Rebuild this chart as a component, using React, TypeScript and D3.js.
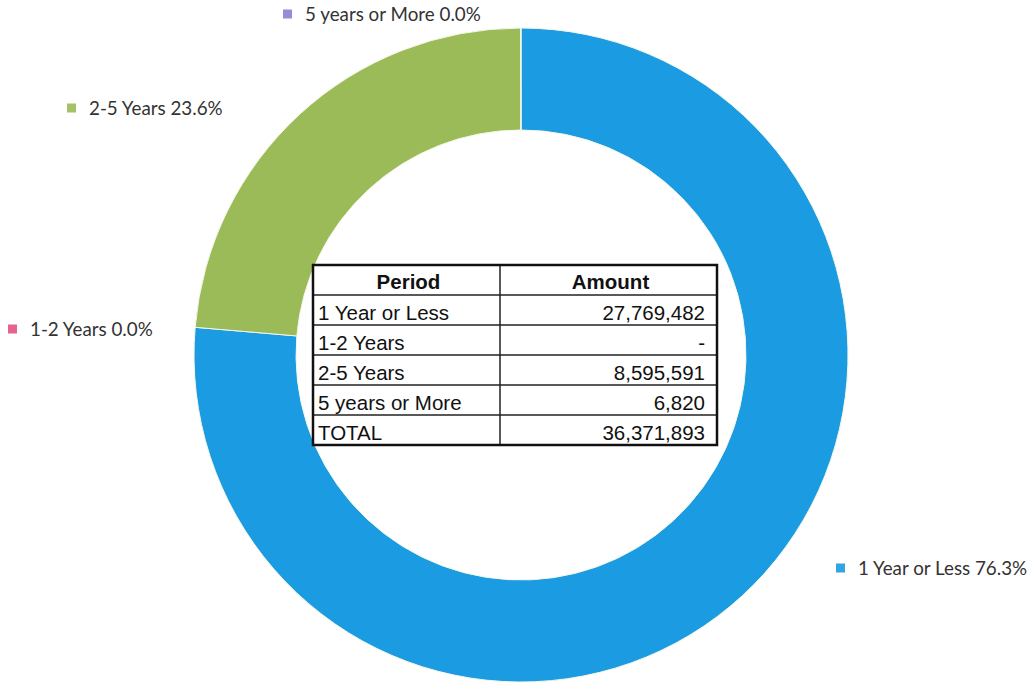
import React from "react";
import * as d3 from "d3";

const periods = ["1 Year or Less", "1-2 Years", "2-5 Years", "5 years or More"];
const amounts = [27769482, 0, 8595591, 6820];
const labelNames = ["1 Year or Less", "1-2 Years", "2-5 Years", "5 years or More"];
const colors = ["#1b9be1", "#e2527f", "#9bbb59", "#8a7fd4"];
const tableHeaders = ["Period", "Amount"];
const totalLabel = "TOTAL";

// label anchor positions (marker left/centre) – layout only
const labelLayout = [
  { x: 836, y: 568 },
  { x: 8, y: 329 },
  { x: 67, y: 108 },
  { x: 283, y: 14 },
];

const W = 1034;
const H = 686;
const cx = 521;
const cy = 355;
const outerR = 327;
const innerR = 225;

export default function App() {
  const total = d3.sum(amounts);
  const pie = d3
    .pie<number>()
    .sort(null)
    .value((d) => d)
    .startAngle(0)
    .endAngle(2 * Math.PI);
  const arcs = pie(amounts);
  const arc = d3.arc<d3.PieArcDatum<number>>().innerRadius(innerR).outerRadius(outerR);
  const pct = d3.format(".1f");
  const num = d3.format(",");

  // table layout
  const tx0 = 313;
  const tx1 = 717;
  const tColDiv = 500;
  const ty0 = 265;
  const rowH = 30;
  const rows = periods.map((p, i) => ({ p, v: amounts[i] }));
  const nRows = rows.length + 2;
  const ty1 = ty0 + rowH * nRows;
  const yScale = d3.scaleLinear().domain([0, nRows]).range([ty0, ty1]);

  return (
    <svg
      width={W}
      height={H}
      style={{ position: "absolute", left: 0, top: 0, background: "#fff" }}
    >
      <g transform={`translate(${cx},${cy})`}>
        {arcs.map((a, i) => (
          <path
            key={i}
            d={arc(a) || ""}
            fill={colors[i]}
            stroke="#f4f7e8"
            strokeWidth={a.value > 0 ? 1 : 0}
          />
        ))}
      </g>
      {labelLayout.map((l, i) => (
        <g key={i} transform={`translate(${l.x},${l.y})`}>
          <rect x={0} y={-4.5} width={9} height={9} fill={colors[i]} opacity={0.9} />
          <text
            x={22}
            y={6.5}
            fontFamily="Lato, 'Noto Sans', sans-serif"
            fontSize={18.8}
            fill="#333"
          >
            {`${labelNames[i]} ${pct((amounts[i] / total) * 100)}%`}
          </text>
        </g>
      ))}
      <g fontFamily="'Liberation Sans', Arial, sans-serif" fontSize={20.5} fill="#111">
        <rect x={tx0} y={ty0} width={tx1 - tx0} height={ty1 - ty0} fill="#fff" />
        {d3.range(1, nRows).map((r) => (
          <line key={r} x1={tx0} x2={tx1} y1={yScale(r)} y2={yScale(r)} stroke="#222" strokeWidth={1.5} />
        ))}
        <line x1={tColDiv} x2={tColDiv} y1={ty0} y2={ty1} stroke="#222" strokeWidth={1.5} />
        <rect x={tx0} y={ty0} width={tx1 - tx0} height={ty1 - ty0} fill="none" stroke="#111" strokeWidth={2.5} />
        <text x={(tx0 + tColDiv) / 2 + 2} y={yScale(1) - 6} textAnchor="middle" fontWeight="bold">
          {tableHeaders[0]}
        </text>
        <text x={(tColDiv + tx1) / 2 + 2} y={yScale(1) - 6} textAnchor="middle" fontWeight="bold">
          {tableHeaders[1]}
        </text>
        {rows.map((r, i) => (
          <g key={i}>
            <text x={tx0 + 5} y={yScale(i + 2) - 5.5}>
              {r.p}
            </text>
            <text x={tx1 - 12} y={yScale(i + 2) - 5.5} textAnchor="end">
              {r.v === 0 ? "-" : num(r.v)}
            </text>
          </g>
        ))}
        <text x={tx0 + 5} y={yScale(nRows) - 5.5}>
          {totalLabel}
        </text>
        <text x={tx1 - 12} y={yScale(nRows) - 5.5} textAnchor="end">
          {num(total)}
        </text>
      </g>
    </svg>
  );
}
